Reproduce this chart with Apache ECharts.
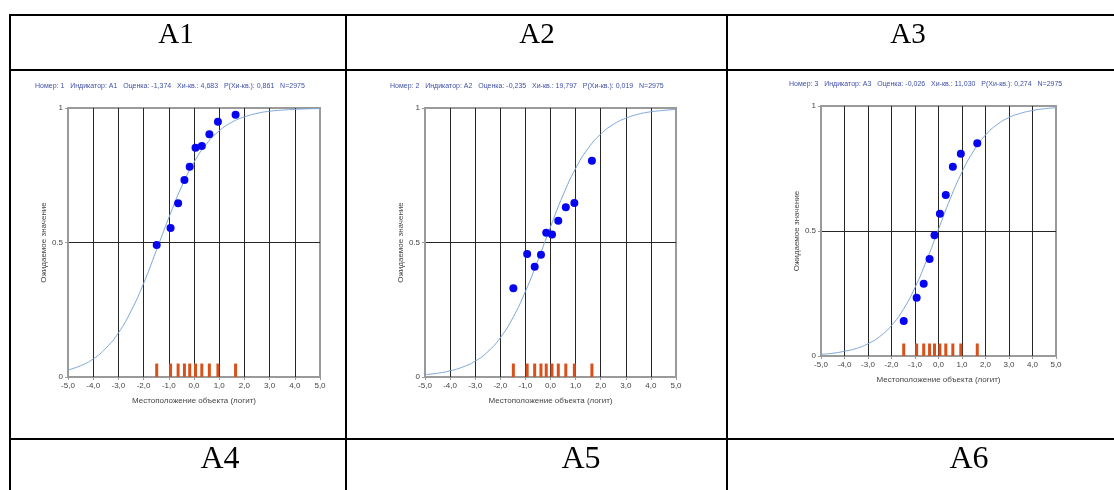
<!DOCTYPE html>
<html>
<head>
<meta charset="utf-8">
<script src="https://cdn.jsdelivr.net/npm/echarts@6/dist/echarts.min.js"></script>
<style>
  html, body { margin: 0; padding: 0; background: #fff; }
  #main { width: 1114px; height: 490px; }
</style>
</head>
<body>
<div id="main"></div>
<script>
// таблица: заголовки ячеек
var headTop = ['A1', 'A2', 'A3'];
var headBottom = ['A4', 'A5', 'A6'];

// подписи над графиками
var titles = [
    'Номер: 1   Индикатор: A1   Оценка: -1,374   Хи-кв.: 4,683   P(Хи-кв.): 0,861   N=2975',
    'Номер: 2   Индикатор: A2   Оценка: -0,235   Хи-кв.: 19,797   P(Хи-кв.): 0,019   N=2975',
    'Номер: 3   Индикатор: A3   Оценка: -0,026   Хи-кв.: 11,030   P(Хи-кв.): 0,274   N=2975'
];

// положение групп (логит) - оранжевые метки внизу
var groupLoc = [-1.48, -0.93, -0.63, -0.38, -0.17, 0.06, 0.31, 0.61, 0.95, 1.65];
var barHeight = 0.05;

// наблюдаемые доли (синие точки)
var obs1 = [0.491, 0.554, 0.646, 0.732, 0.782, 0.852, 0.859, 0.902, 0.949, 0.975];
var obs2 = [0.330, 0.457, 0.410, 0.454, 0.536, 0.530, 0.581, 0.631, 0.647, 0.804];
var obs3 = [0.140, 0.233, 0.289, 0.388, 0.483, 0.569, 0.644, 0.757, 0.809, 0.851];

// ожидаемая кривая (голубая линия)
var curveX = [-5, -4.5, -4, -3.5, -3, -2.5, -2, -1.5, -1, -0.5, 0, 0.5, 1, 1.5, 2, 2.5, 3, 3.5, 4, 4.5, 5];
var curve1 = [0.026, 0.042, 0.067, 0.107, 0.164, 0.245, 0.348, 0.469, 0.592, 0.706, 0.798, 0.867, 0.915, 0.947, 0.967, 0.980, 0.988, 0.992, 0.995, 0.997, 0.998];
var curve2 = [0.009, 0.014, 0.023, 0.037, 0.059, 0.094, 0.146, 0.220, 0.318, 0.434, 0.558, 0.676, 0.775, 0.850, 0.903, 0.939, 0.962, 0.977, 0.986, 0.991, 0.995];
var curve3 = [0.007, 0.011, 0.019, 0.030, 0.049, 0.078, 0.122, 0.186, 0.274, 0.384, 0.507, 0.629, 0.736, 0.821, 0.884, 0.926, 0.954, 0.971, 0.982, 0.989, 0.993];

var obsAll = [obs1, obs2, obs3];
var curveAll = [curve1, curve2, curve3];

var myChart = echarts.init(document.getElementById('main'));

var grids = [
    {left: 68, top: 108, width: 252, height: 269},
    {left: 425, top: 108, width: 251, height: 269},
    {left: 821, top: 106, width: 235, height: 250}
];
var titlePos = [[35, 83], [390, 83], [789, 81]];

var font = 'Liberation Sans';

var xAxes = [], yAxes = [], series = [], titleArr = [];
grids.forEach(function (g, i) {
    g.show = true;
    g.borderColor = '#9a9a9a';
    g.borderWidth = 2;
    g.backgroundColor = 'transparent';

    titleArr.push({
        text: titles[i],
        left: titlePos[i][0],
        top: titlePos[i][1],
        padding: 0,
        textStyle: {fontSize: 7, fontWeight: 'normal', color: '#4050a8', fontFamily: font}
    });

    xAxes.push({
        gridIndex: i, type: 'value', min: -5, max: 5, interval: 1,
        name: 'Местоположение объекта (логит)',
        nameLocation: 'middle', nameGap: 20,
        nameTextStyle: {fontSize: 8, color: '#444', fontFamily: font},
        axisLine: {show: true, onZero: false, lineStyle: {color: '#9a9a9a', width: 1}},
        axisTick: {show: true, length: 3, lineStyle: {color: '#9a9a9a'}},
        axisLabel: {
            fontSize: 8, color: '#444', margin: 5, fontFamily: font,
            formatter: function (v) { return v.toFixed(1).replace('.', ','); }
        },
        splitLine: {show: true, showMinLine: false, showMaxLine: false, lineStyle: {color: '#262626', width: 1}}
    });
    yAxes.push({
        gridIndex: i, type: 'value', min: 0, max: 1, interval: 0.5,
        name: 'Ожидаемое значение',
        nameLocation: 'middle', nameGap: 20,
        nameTextStyle: {fontSize: 8, color: '#444', fontFamily: font},
        axisLine: {show: true, onZero: false, lineStyle: {color: '#9a9a9a', width: 1}},
        axisTick: {show: true, length: 3, lineStyle: {color: '#9a9a9a'}},
        axisLabel: {fontSize: 8, color: '#444', margin: 5, fontFamily: font},
        splitLine: {show: true, showMinLine: false, showMaxLine: false, lineStyle: {color: '#262626', width: 1}}
    });

    series.push({
        type: 'line', xAxisIndex: i, yAxisIndex: i,
        smooth: true, showSymbol: false, silent: true,
        lineStyle: {color: '#7ba7d6', width: 1},
        data: curveX.map(function (x, k) { return [x, curveAll[i][k]]; }),
        z: 3
    });
    series.push({
        type: 'bar', xAxisIndex: i, yAxisIndex: i,
        barWidth: 3, silent: true,
        itemStyle: {color: '#d9501a'},
        data: groupLoc.map(function (x) { return [x, barHeight]; }),
        z: 2
    });
    series.push({
        type: 'scatter', xAxisIndex: i, yAxisIndex: i,
        symbolSize: 8, silent: true,
        itemStyle: {color: '#0505f0', opacity: 1},
        data: groupLoc.map(function (x, k) { return [x, obsAll[i][k]]; }),
        z: 4
    });
});

// линии таблицы
var lineStyle = {stroke: '#000', lineWidth: 2};
var tableLines = [
    [9, 15, 1114, 15],
    [9, 70, 1114, 70],
    [9, 439, 1114, 439],
    [10, 14, 10, 490],
    [346, 14, 346, 490],
    [727, 14, 727, 490]
];
var graphics = tableLines.map(function (l) {
    return {type: 'line', shape: {x1: l[0], y1: l[1], x2: l[2], y2: l[3]}, style: lineStyle, silent: true};
});
var headTopX = [176, 537, 908];
var headBottomX = [220, 581, 969];
headTop.forEach(function (t, i) {
    graphics.push({type: 'text', x: headTopX[i], y: 35, silent: true,
        style: {text: t, font: '29px "Liberation Serif"', fill: '#000', align: 'center', verticalAlign: 'middle'}});
});
headBottom.forEach(function (t, i) {
    graphics.push({type: 'text', x: headBottomX[i], y: 460, silent: true,
        style: {text: t, font: '32px "Liberation Serif"', fill: '#000', align: 'center', verticalAlign: 'middle'}});
});

var option = {
    animation: false,
    backgroundColor: '#fff',
    title: titleArr,
    grid: grids,
    xAxis: xAxes,
    yAxis: yAxes,
    series: series,
    graphic: graphics
};

myChart.setOption(option);
</script>
</body>
</html>
